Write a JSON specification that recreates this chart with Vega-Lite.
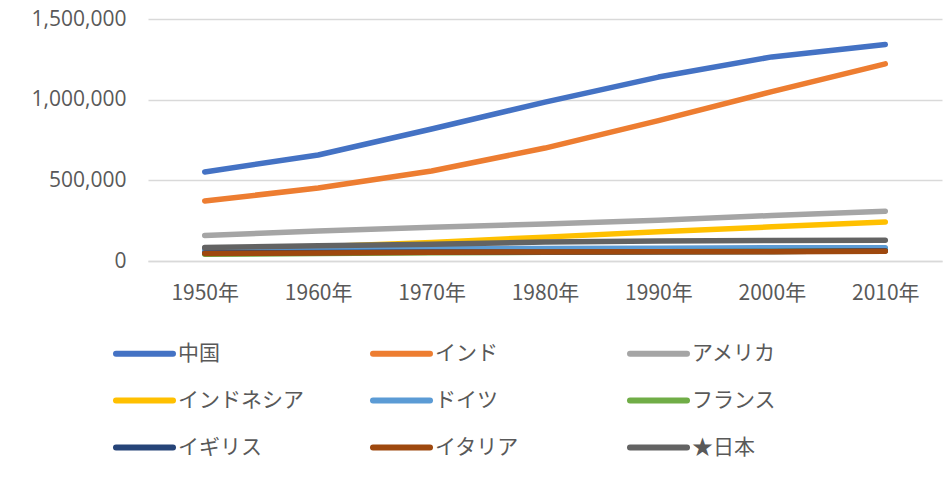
{
  "$schema": "https://vega.github.io/schema/vega-lite/v6.json",
  "width": 794,
  "height": 242,
  "autosize": "none",
  "padding": {"left": 148, "top": 19, "right": 5, "bottom": 217},
  "background": "white",
  "config": {"view": {"stroke": null}},
  "data": {
    "values": [
      {"year": "1950年", "country": "中国", "pop": 552000},
      {"year": "1960年", "country": "中国", "pop": 657000},
      {"year": "1970年", "country": "中国", "pop": 818000},
      {"year": "1980年", "country": "中国", "pop": 985000},
      {"year": "1990年", "country": "中国", "pop": 1140000},
      {"year": "2000年", "country": "中国", "pop": 1265000},
      {"year": "2010年", "country": "中国", "pop": 1342000},
      {"year": "1950年", "country": "インド", "pop": 372000},
      {"year": "1960年", "country": "インド", "pop": 452000},
      {"year": "1970年", "country": "インド", "pop": 558000},
      {"year": "1980年", "country": "インド", "pop": 700000},
      {"year": "1990年", "country": "インド", "pop": 870000},
      {"year": "2000年", "country": "インド", "pop": 1050000},
      {"year": "2010年", "country": "インド", "pop": 1222000},
      {"year": "1950年", "country": "アメリカ", "pop": 158000},
      {"year": "1960年", "country": "アメリカ", "pop": 186000},
      {"year": "1970年", "country": "アメリカ", "pop": 209000},
      {"year": "1980年", "country": "アメリカ", "pop": 230000},
      {"year": "1990年", "country": "アメリカ", "pop": 253000},
      {"year": "2000年", "country": "アメリカ", "pop": 282000},
      {"year": "2010年", "country": "アメリカ", "pop": 309000},
      {"year": "1950年", "country": "インドネシア", "pop": 73000},
      {"year": "1960年", "country": "インドネシア", "pop": 88000},
      {"year": "1970年", "country": "インドネシア", "pop": 115000},
      {"year": "1980年", "country": "インドネシア", "pop": 148000},
      {"year": "1990年", "country": "インドネシア", "pop": 182000},
      {"year": "2000年", "country": "インドネシア", "pop": 212000},
      {"year": "2010年", "country": "インドネシア", "pop": 242000},
      {"year": "1950年", "country": "ドイツ", "pop": 70000},
      {"year": "1960年", "country": "ドイツ", "pop": 73000},
      {"year": "1970年", "country": "ドイツ", "pop": 78000},
      {"year": "1980年", "country": "ドイツ", "pop": 78000},
      {"year": "1990年", "country": "ドイツ", "pop": 79000},
      {"year": "2000年", "country": "ドイツ", "pop": 82000},
      {"year": "2010年", "country": "ドイツ", "pop": 82000},
      {"year": "1950年", "country": "フランス", "pop": 42000},
      {"year": "1960年", "country": "フランス", "pop": 46000},
      {"year": "1970年", "country": "フランス", "pop": 51000},
      {"year": "1980年", "country": "フランス", "pop": 54000},
      {"year": "1990年", "country": "フランス", "pop": 57000},
      {"year": "2000年", "country": "フランス", "pop": 59000},
      {"year": "2010年", "country": "フランス", "pop": 63000},
      {"year": "1950年", "country": "イギリス", "pop": 50000},
      {"year": "1960年", "country": "イギリス", "pop": 52000},
      {"year": "1970年", "country": "イギリス", "pop": 56000},
      {"year": "1980年", "country": "イギリス", "pop": 56000},
      {"year": "1990年", "country": "イギリス", "pop": 57000},
      {"year": "2000年", "country": "イギリス", "pop": 59000},
      {"year": "2010年", "country": "イギリス", "pop": 63000},
      {"year": "1950年", "country": "イタリア", "pop": 47000},
      {"year": "1960年", "country": "イタリア", "pop": 50000},
      {"year": "1970年", "country": "イタリア", "pop": 54000},
      {"year": "1980年", "country": "イタリア", "pop": 56000},
      {"year": "1990年", "country": "イタリア", "pop": 57000},
      {"year": "2000年", "country": "イタリア", "pop": 57000},
      {"year": "2010年", "country": "イタリア", "pop": 60000},
      {"year": "1950年", "country": "★日本", "pop": 83000},
      {"year": "1960年", "country": "★日本", "pop": 94000},
      {"year": "1970年", "country": "★日本", "pop": 104000},
      {"year": "1980年", "country": "★日本", "pop": 117000},
      {"year": "1990年", "country": "★日本", "pop": 124000},
      {"year": "2000年", "country": "★日本", "pop": 127000},
      {"year": "2010年", "country": "★日本", "pop": 128000}
    ]
  },
  "mark": {"type": "line", "strokeWidth": 5.5, "strokeCap": "round", "strokeJoin": "round"},
  "encoding": {
    "x": {
      "field": "year",
      "type": "ordinal",
      "scale": {"type": "point", "padding": 0.5},
      "axis": {
        "title": null,
        "labelAngle": 0,
        "ticks": false,
        "domain": true,
        "domainColor": "#d9d9d9",
        "domainWidth": 1.5,
        "labelPadding": 21,
        "labelFontSize": 21,
        "labelFont": "Noto Sans CJK JP",
        "labelColor": "#595959"
      }
    },
    "y": {
      "field": "pop",
      "type": "quantitative",
      "scale": {"domain": [0, 1500000]},
      "axis": {
        "title": null,
        "values": [0, 500000, 1000000, 1500000],
        "format": ",.0f",
        "ticks": false,
        "domain": false,
        "gridColor": "#d9d9d9",
        "gridWidth": 1.5,
        "labelPadding": 22,
        "labelFontSize": 21,
        "labelFont": "Open Sans",
        "labelColor": "#595959"
      }
    },
    "color": {
      "field": "country",
      "type": "nominal",
      "sort": null,
      "scale": {
        "domain": ["中国", "インド", "アメリカ", "インドネシア", "ドイツ", "フランス", "イギリス", "イタリア", "★日本"],
        "range": ["#4472C4", "#ED7D31", "#A5A5A5", "#FFC000", "#5B9BD5", "#70AD47", "#264478", "#9E480E", "#636363"]
      },
      "legend": {
        "title": null,
        "orient": "none",
        "direction": "horizontal",
        "legendX": -35,
        "legendY": 303,
        "columns": 3,
        "gridAlign": "all",
        "columnPadding": 57,
        "rowPadding": 3,
        "symbolType": "stroke",
        "symbolSize": 3249,
        "symbolStrokeWidth": 6,
        "labelOffset": 2,
        "labelFontSize": 21,
        "labelFont": "Noto Sans CJK JP",
        "labelColor": "#595959",
        "labelLimit": 300,
        "encode": {"symbols": {"update": {"strokeCap": {"value": "round"}}}}
      }
    }
  }
}
